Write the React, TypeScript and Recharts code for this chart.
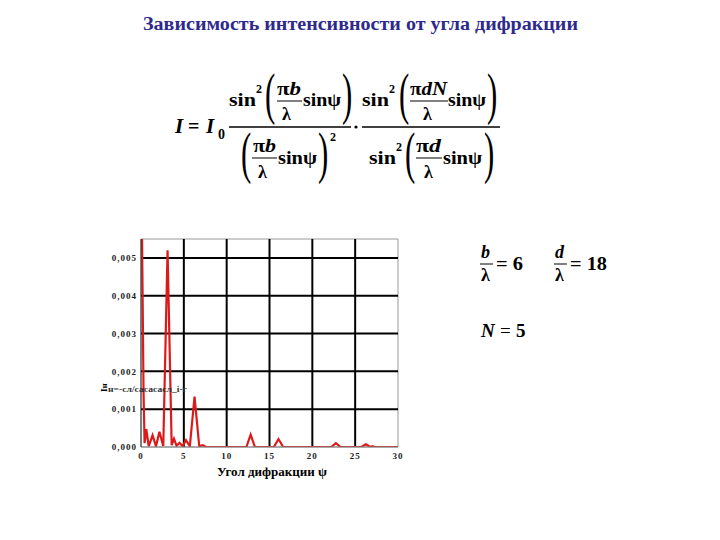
import React from 'react';
import { LineChart, Line, XAxis, YAxis, ReferenceLine, ReferenceArea } from 'recharts';

// Diffraction angle ψ (degrees) and intensity
const angleDeg = [
  0, 0.1, 0.2, 0.3, 0.42, 0.62, 0.9, 1.35, 1.75, 2.15, 2.6, 3.1, 3.58, 3.85, 4.15, 4.5, 4.85,
  5.25, 5.7, 6.25, 6.8, 7.2, 7.6, 12.3, 12.8, 13.3, 15.5, 16.05, 16.6, 22.2, 22.75, 23.3,
  25.7, 26.25, 26.8, 27.0, 27.3, 30,
];
const intensity = [
  0.0075, 0.0061, 0.0037, 0.0014, 0.0001, 0.00047, 0.00002, 0.00031, 0.00002, 0.0004, 0.00003,
  0.0052, 0.00005, 0.00022, 0.00003, 0.00011, 0.00002, 0.00018, 0.00002, 0.00133, 0.00002,
  0.00005, 0, 0, 0.00033, 0, 0, 0.00021, 0, 0, 0.0001, 0, 0, 0.00007, 0, 0.00002, 0, 0,
];
const xTicks = [0, 5, 10, 15, 20, 25, 30];
const yTicks = [0, 0.001, 0.002, 0.003, 0.004, 0.005];
const xGrid = [5, 10, 15, 20, 25];
const yGrid = [0.001, 0.002, 0.003, 0.004, 0.005];
const yMax = 0.0055;

const title = 'Зависимость интенсивности от угла дифракции';
const xLabel = 'Угол дифракции  ψ';

const data = angleDeg.map((x, i) => ({ x, y: intensity[i] }));

const serif = 'Liberation Serif, Times New Roman, serif';
const tickStyle = { fontSize: 9, fontWeight: 'bold', fontFamily: serif, fill: '#222', letterSpacing: 1 };

const T = (p: any) => (
  <text
    x={p.x}
    y={p.y}
    fontSize={p.s || 19}
    fontFamily={serif}
    fontWeight={p.w || 'bold'}
    fontStyle={p.i ? 'italic' : 'normal'}
    fill={p.fill || '#000'}
    textLength={p.len}
    lengthAdjust={p.len ? 'spacingAndGlyphs' : undefined}
    textAnchor={p.anchor || 'start'}
    transform={p.transform}
  >
    {p.children}
  </text>
);

const Paren = ({ x, y, ch }: any) => (
  <text
    x={0}
    y={0}
    fontSize={56}
    fontFamily={serif}
    fontWeight="normal"
    transform={`translate(${x},${y}) scale(0.55,1)`}
  >
    {ch}
  </text>
);

const Overlay = () => (
  <svg
    width={720}
    height={540}
    style={{ position: 'absolute', left: 0, top: 0, pointerEvents: 'none' }}
  >
    <T x={143} y={30} s={18} fill="#2e2a8c" len={435}>{title}</T>

    {/* I = I0 */}
    <T x={175} y={133} s={21} i>I</T>
    <T x={188} y={133} s={20}>=</T>
    <T x={206} y={133} s={21} i>I</T>
    <T x={218} y={139} s={14}>0</T>

    {/* fraction 1 numerator */}
    <T x={229} y={106} s={19} len={27}>sin</T>
    <T x={256} y={93} s={12}>2</T>
    <Paren x={265} y={113} ch="(" />
    <T x={277} y={95} s={18} len={24}>
      <tspan>π</tspan><tspan fontStyle="italic">b</tspan>
    </T>
    <line x1={277} y1={101} x2={302} y2={101} stroke="#000" strokeWidth={1} />
    <T x={282} y={120} s={18}>λ</T>
    <T x={303} y={106} s={19} len={38}>sinψ</T>
    <Paren x={342} y={113} ch=")" />
    <line x1={229} y1={127} x2={351} y2={127} stroke="#000" strokeWidth={1.5} />
    {/* fraction 1 denominator */}
    <Paren x={241} y={172} ch="(" />
    <T x={253} y={152} s={18} len={23}>
      <tspan>π</tspan><tspan fontStyle="italic">b</tspan>
    </T>
    <line x1={252} y1={158} x2={277} y2={158} stroke="#000" strokeWidth={1} />
    <T x={258} y={178} s={18}>λ</T>
    <T x={278} y={164} s={19} len={39}>sinψ</T>
    <Paren x={318} y={172} ch=")" />
    <T x={330} y={141} s={12}>2</T>

    <circle cx={356} cy={127} r={1.6} fill="#000" />

    {/* fraction 2 numerator */}
    <T x={362} y={106} s={19} len={27}>sin</T>
    <T x={389} y={93} s={12}>2</T>
    <Paren x={399} y={113} ch="(" />
    <T x={410} y={95} s={18} len={37}>
      <tspan>π</tspan><tspan fontStyle="italic">dN</tspan>
    </T>
    <line x1={410} y1={101} x2={448} y2={101} stroke="#000" strokeWidth={1} />
    <T x={423} y={120} s={18}>λ</T>
    <T x={448} y={106} s={19} len={38}>sinψ</T>
    <Paren x={487} y={113} ch=")" />
    <line x1={362} y1={127} x2={500} y2={127} stroke="#000" strokeWidth={1.5} />
    {/* fraction 2 denominator */}
    <T x={369} y={164} s={19} len={27}>sin</T>
    <T x={396} y={151} s={12}>2</T>
    <Paren x={405} y={172} ch="(" />
    <T x={416} y={152} s={18} len={25}>
      <tspan>π</tspan><tspan fontStyle="italic">d</tspan>
    </T>
    <line x1={416} y1={158} x2={442} y2={158} stroke="#000" strokeWidth={1} />
    <T x={424} y={178} s={18}>λ</T>
    <T x={443} y={164} s={19} len={39}>sinψ</T>
    <Paren x={484} y={172} ch=")" />

    {/* parameters */}
    <T x={481} y={258} s={18} i>b</T>
    <line x1={480} y1={264} x2={493} y2={264} stroke="#000" strokeWidth={1} />
    <T x={481} y={281} s={18}>λ</T>
    <T x={496} y={270} s={18} len={27}>= 6</T>

    <T x={555} y={258} s={18} i>d</T>
    <line x1={554} y1={264} x2={567} y2={264} stroke="#000" strokeWidth={1} />
    <T x={555} y={281} s={18}>λ</T>
    <T x={570} y={270} s={18} len={37}>= 18</T>

    <T x={481} y={337} s={19} i>N</T>
    <T x={500} y={337} s={19} w="normal">=</T>
    <T x={516} y={337} s={19}>5</T>

    {/* axis labels */}
    <T x={217} y={476} s={12} len={110}>{xLabel}</T>
    <T x={0} y={0} s={9} transform="translate(107,392) rotate(-90)">Iн</T>
    <T x={108} y={392} s={9} len={79} fill="#333">н=-сл/сасасасл_і-г</T>
  </svg>
);

export default function App() {
  return (
    <div style={{ position: 'absolute', left: 0, top: 0, width: 720, height: 540, background: '#fff' }}>
      <LineChart
        width={720}
        height={540}
        data={data}
        margin={{ top: 239, right: 322, bottom: 63, left: 111 }}
      >
        <XAxis
          dataKey="x"
          type="number"
          domain={[0, 30]}
          ticks={xTicks}
          height={30}
          tickLine={false}
          tickSize={3}
          tickMargin={3}
          axisLine={{ stroke: '#888' }}
          tick={tickStyle}
        />
        <YAxis
          type="number"
          domain={[0, yMax]}
          allowDataOverflow
          ticks={yTicks}
          width={30}
          tickLine={false}
          tickSize={2}
          tickMargin={2}
          axisLine={{ stroke: '#333' }}
          tick={tickStyle}
          tickFormatter={(v: number) => v.toFixed(3).replace('.', ',')}
        />
        <ReferenceArea x1={0} x2={30} y1={0} y2={yMax} fill="none" stroke="#999" strokeWidth={1} />
        {xGrid.map((v) => (
          <ReferenceLine key={'x' + v} x={v} stroke="#000" strokeWidth={2} />
        ))}
        {yGrid.map((v) => (
          <ReferenceLine key={'y' + v} y={v} stroke="#000" strokeWidth={2} />
        ))}
        <Line
          type="linear"
          dataKey="y"
          stroke="#dd1a1a"
          strokeWidth={2.2}
          dot={false}
          isAnimationActive={false}
        />
      </LineChart>
      <Overlay />
    </div>
  );
}
